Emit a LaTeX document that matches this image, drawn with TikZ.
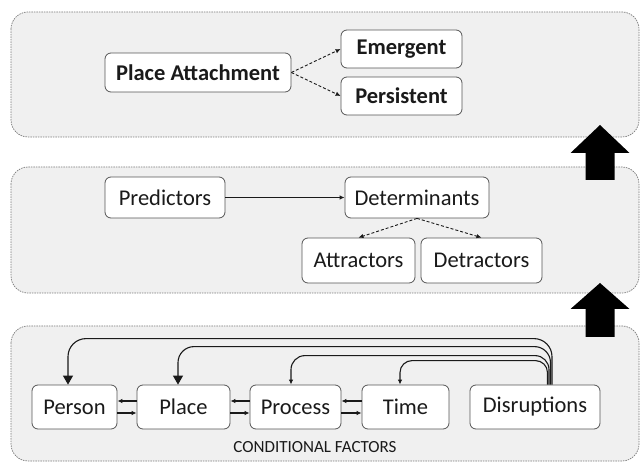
\documentclass[tikz,border=0pt]{standalone}
\usepackage{fontspec}
\setmainfont{Carlito}
\usetikzlibrary{arrows.meta}
\definecolor{panelfill}{HTML}{F0F0F0}
\definecolor{panelline}{HTML}{7A7A7A}
\definecolor{boxline}{HTML}{555555}
\definecolor{ink}{HTML}{1A1A1A}
\begin{document}
\begin{tikzpicture}[x=1pt,y=-1pt,
 panel/.style={fill=panelfill, draw=panelline, line width=0.7pt, dash pattern=on 1.5pt off 1pt, rounded corners=17pt},
 box/.style={draw=boxline, fill=white, line width=0.8pt, rounded corners=6pt, inner sep=0pt, font=\fontsize{22.5}{26}\selectfont, text=ink},
 bbox/.style={box, font=\fontsize{22.5}{26}\selectfont\bfseries},
 conn/.style={draw=ink, line width=1.1pt, -{Latex[length=5pt,width=4.5pt]}},
 dconn/.style={conn, line width=0.9pt, dash pattern=on 3pt off 2pt},
 bigtip/.style={draw=ink, line width=1.1pt, -{Triangle[length=9pt,width=10pt]}},
 bigarrow/.style={fill=black},
]
\useasboundingbox (0,0) rectangle (640,462);
\fill[white] (0,0) rectangle (640,462);

% panels
\path[panel] (11,12) rectangle (639,137);
\path[panel] (11,167) rectangle (639,293);
\path[panel] (11,326) rectangle (639,461);

% block arrows
\fill[bigarrow] (600,125) -- (629.5,153) -- (614.5,153) -- (614.5,180) -- (585.5,180) -- (585.5,153) -- (570.5,153) -- cycle;
\fill[bigarrow] (600,283) -- (629.5,309) -- (614.5,309) -- (614.5,337) -- (585.5,337) -- (585.5,309) -- (570.5,309) -- cycle;

% top panel
\node[bbox, minimum width=186pt, minimum height=39pt] (pa) at (198,72.5) {Place Attachment};
\node[bbox, minimum width=121pt, minimum height=38pt] (em) at (401.5,49) {Emergent};
\node[bbox, minimum width=121pt, minimum height=38pt] (pe) at (401.5,96) {Persistent};
\draw[dconn] (pa.east) -- (em.west);
\draw[dconn] (pa.east) -- (pe.west);

% middle panel
\node[box, minimum width=120pt, minimum height=41pt] (pred) at (165,197.5) {Predictors};
\node[box, minimum width=144pt, minimum height=41pt] (det) at (417,197.5) {Determinants};
\node[box, minimum width=113pt, minimum height=45pt] (attr) at (358.5,260.5) {Attractors};
\node[box, minimum width=121pt, minimum height=45pt] (detr) at (481.5,260.5) {Detractors};
\draw[conn] (pred) -- (det);
\draw[dconn] (det.south) -- (attr.north);
\draw[dconn] (det.south) -- (detr.north);

% bottom panel
\node[box, minimum width=85pt, minimum height=44pt] (person) at (74.5,407) {Person};
\node[box, minimum width=93pt, minimum height=44pt] (place) at (183.5,407) {Place};
\node[box, minimum width=91pt, minimum height=44pt] (proc) at (295.5,407) {Process};
\node[box, minimum width=87pt, minimum height=44pt] (time) at (405.5,407) {Time};
\node[box, minimum width=130pt, minimum height=44pt] (dis) at (535,407) {Disruptions};
\node[font=\fontsize{17}{19}\selectfont, text=ink] (cf) at (315,447) {CONDITIONAL FACTORS};

\foreach \a/\b in {place/person, proc/place, time/proc}{
  \draw[conn] ([yshift=6pt]\a.west) -- ([yshift=6pt]\b.east);
  \draw[conn] ([yshift=-6pt]\b.east) -- ([yshift=-6pt]\a.west);
}

\draw[bigtip, rounded corners=18pt] ([xshift=17pt]dis.north) -- ++(0,-46) -| ([xshift=-6.5pt]person.north);
\draw[bigtip, rounded corners=16pt] ([xshift=15.5pt]dis.north) -- ++(0,-38) -| ([xshift=-5.5pt]place.north);
\draw[conn, rounded corners=14pt] ([xshift=14pt]dis.north) -- ++(0,-29) -| ([xshift=-4.5pt]proc.north);
\draw[conn, rounded corners=12pt] ([xshift=12.5pt]dis.north) -- ++(0,-24) -| ([xshift=-5.5pt]time.north);
\end{tikzpicture}
\end{document}
